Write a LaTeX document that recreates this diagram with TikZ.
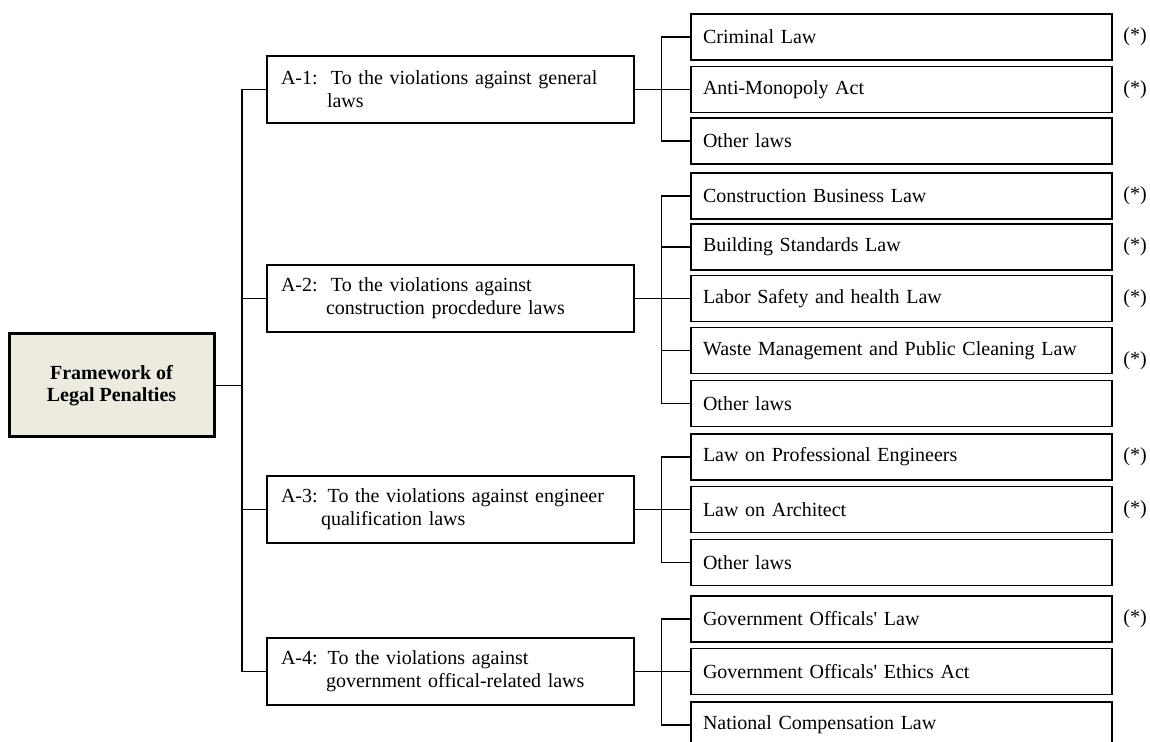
\documentclass[tikz,border=0pt]{standalone}
\usepackage{fontspec}
\setmainfont{Liberation Serif}
\usepackage{tikz}
\definecolor{rootfill}{RGB}{237,235,224}
\newcommand{\lawnode}[3] % {name}{y}{text}
{
	\node [lawbox] (#1) at (901.5,#2) {#3};
}
\newcommand{\starnote}[2] % {name}{y}
{
	\node [noteflag] (#1) at (1135,#2) {(*)};
}

\begin{document}
\begin{tikzpicture}[x=0.5pt, y=-0.5pt,
		font=\fontsize{10}{11.5}\selectfont,
		rootbox/.style={draw, line width=1.5pt, fill=rootfill, minimum width=102.5pt, minimum height=51.5pt, align=center, font=\bfseries\fontsize{10}{11}\selectfont},
		groupbox/.style={draw, line width=0.7pt, minimum height=33.5pt, inner xsep=7pt, text width=169.5pt, align=left},
		lawbox/.style={draw, line width=0.7pt, minimum height=23pt, inner xsep=6pt, text width=198.5pt, align=left},
		noteflag/.style={inner sep=0pt},
		link/.style={line width=0.6pt}]

	\path [use as bounding box] (0,0) rectangle (1150,742);
	\clip (0,0) rectangle (1150,742);

	% root and the four groups
	\node [rootbox] (root) at (111.5,385.5) {Framework of\\Legal Penalties};

	\node [groupbox] (a1) at (450.5,89.5) {A-1:\ \ To the violations against general\\\hspace*{23pt}laws};
	\node [groupbox] (a2) at (450.5,298.5) {A-2:\ \ To the violations against\\\hspace*{22.5pt}construction procdedure laws};
	\node [groupbox] (a3) at (450.5,509.5) {A-3: To the violations against engineer\\\hspace*{20pt}qualification laws};
	\node [groupbox] (a4) at (450.5,671.5) {A-4: To the violations against\\\hspace*{22.5pt}government offical-related laws};

	% laws
	\lawnode{crim}{37}{Criminal Law}
	\lawnode{anti}{89.5}{Anti-Monopoly Act}
	\lawnode{otha}{141}{Other laws}

	\lawnode{cons}{196}{Construction Business Law}
	\lawnode{build}{247}{Building Standards Law}
	\lawnode{labor}{298.5}{Labor Safety and health Law}
	\lawnode{waste}{350.5}{Waste Management and Public Cleaning Law}
	\lawnode{othb}{403.5}{Other laws}

	\lawnode{engi}{457}{Law on Professional Engineers}
	\lawnode{arch}{509.5}{Law on Architect}
	\lawnode{othc}{562.5}{Other laws}

	\lawnode{gov}{619}{Government Officals\textquotesingle\ Law}
	\lawnode{ethic}{671.5}{Government Officals\textquotesingle\ Ethics Act}
	\lawnode{comp}{725}{National Compensation Law}

	\starnote{s1}{37}
	\starnote{s2}{89.5}
	\starnote{s3}{196}
	\starnote{s4}{247}
	\starnote{s5}{298.5}
	\starnote{s6}{361}
	\starnote{s7}{457}
	\starnote{s8}{509.5}
	\starnote{s9}{619}

	% main trunk
	\coordinate (trunk) at (242,385.5);
	\draw [link] (root.east) -- (trunk);
	\draw [link] (a1.west) -| (trunk) |- (a4.west);
	\draw [link] (a2.west) -- (a2.west -| trunk);
	\draw [link] (a3.west) -- (a3.west -| trunk);

	% branches
	\draw [link] (crim.west) -- ++(-14.5pt,0) |- (otha.west);
	\draw [link] (a1.east) -- (anti.west);

	\draw [link] (cons.west) -- ++(-14.5pt,0) |- (othb.west);
	\draw [link] (build.west) -- ++(-14.5pt,0);
	\draw [link] (waste.west) -- ++(-14.5pt,0);
	\draw [link] (a2.east) -- (labor.west);

	\draw [link] (engi.west) -- ++(-14.5pt,0) |- (othc.west);
	\draw [link] (a3.east) -- (arch.west);

	\draw [link] (gov.west) -- ++(-14.5pt,0) |- (comp.west);
	\draw [link] (a4.east) -- (ethic.west);

\end{tikzpicture}
\end{document}
